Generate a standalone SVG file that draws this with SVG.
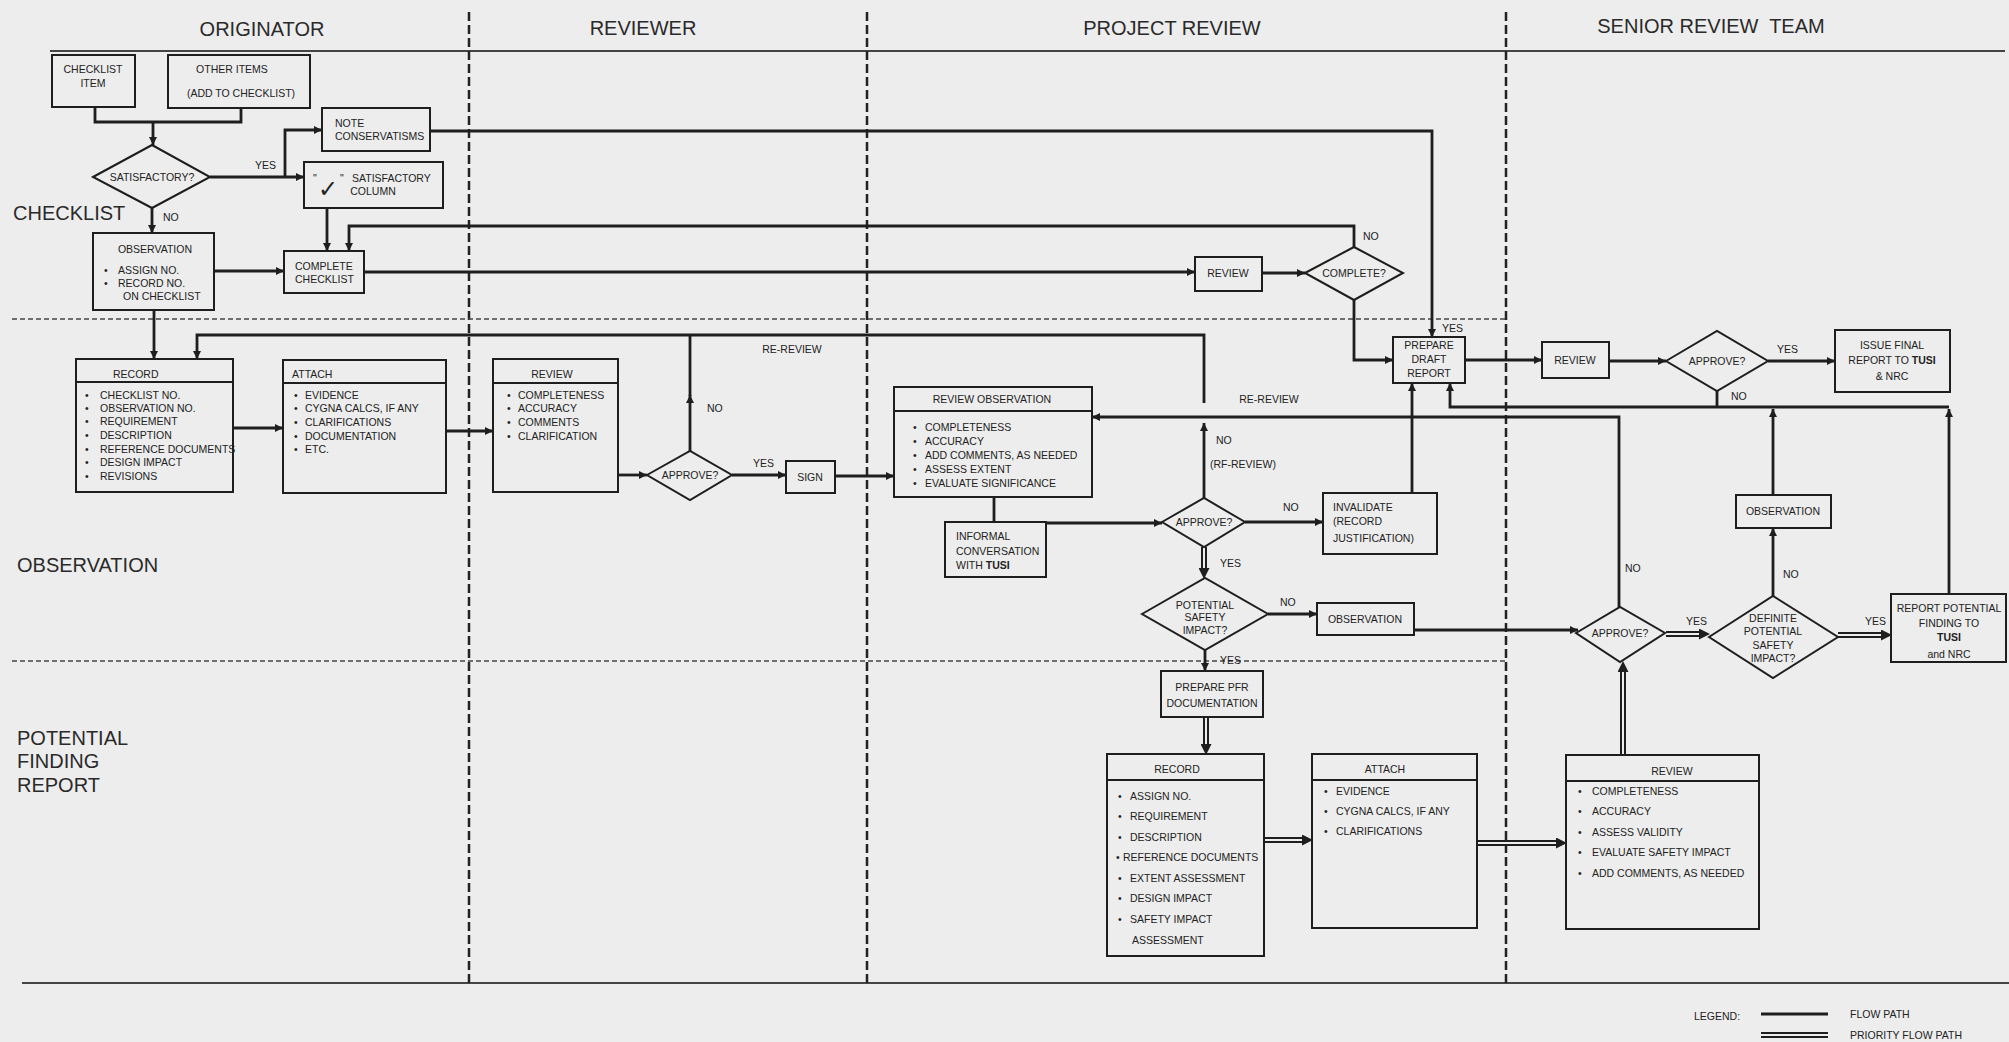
<svg xmlns="http://www.w3.org/2000/svg" width="2009" height="1042" viewBox="0 0 2009 1042">
<style>
.bg{fill:#ededed}
.bx{fill:none;stroke:#1e1e1e;stroke-width:2}
.fl{fill:none;stroke:#1e1e1e;stroke-width:2.8}
.po{fill:none;stroke:#1e1e1e;stroke-width:6}
.pi{fill:none;stroke:#ededed;stroke-width:2}
.t{font-family:"Liberation Sans",Arial,sans-serif;font-size:10.5px;fill:#222}
.c{text-anchor:middle}
.h{font-family:"Liberation Sans",Arial,sans-serif;font-size:20px;fill:#2a2a2a}
.lane{stroke:#222;stroke-width:2.5;stroke-dasharray:9,4;fill:none}
.row{stroke:#444;stroke-width:1.6;stroke-dasharray:5,3;fill:none}
.sol{stroke:#444;stroke-width:2;fill:none}
.b{font-weight:bold}
</style>
<defs>
<marker id="a" viewBox="0 0 10 10" refX="10" refY="5" markerWidth="10" markerHeight="8" markerUnits="userSpaceOnUse" orient="auto"><path d="M0,0 L10,5 L0,10 z" fill="#1e1e1e"/></marker>
<marker id="p" viewBox="0 0 10 10" refX="0" refY="5" markerWidth="11" markerHeight="11" markerUnits="userSpaceOnUse" orient="auto"><path d="M0,0 L10,5 L0,10 z" fill="#1e1e1e"/></marker>
</defs>
<rect class="bg" x="0" y="0" width="2009" height="1042"/>

<g id="lanes">
<path class="sol" d="M50,51 H2005"/>
<path class="sol" d="M22,983 H2009"/>
<path class="lane" d="M469,12 V983 M867,12 V983 M1506,12 V983"/>
<path class="row" d="M12,319 H1506 M12,661 H1506"/>
<text class="h c" x="262" y="36">ORIGINATOR</text>
<text class="h c" x="643" y="35">REVIEWER</text>
<text class="h c" x="1172" y="35">PROJECT REVIEW</text>
<text class="h c" x="1711" y="33" xml:space="preserve">SENIOR REVIEW  TEAM</text>
<text class="h" x="13" y="220">CHECKLIST</text>
<text class="h" x="17" y="572">OBSERVATION</text>
<text class="h" x="17" y="745">POTENTIAL</text>
<text class="h" x="17" y="768">FINDING</text>
<text class="h" x="17" y="792">REPORT</text>
</g>

<g id="connectors">
<path class="fl" d="M95,107 V122 H241 V108"/>
<path class="fl" d="M153,122 V145" marker-end="url(#a)"/>
<path class="fl" d="M210,177 H304" marker-end="url(#a)"/>
<path class="fl" d="M285,177 V130 H322" marker-end="url(#a)"/>
<path class="fl" d="M152,208 V233" marker-end="url(#a)"/>
<path class="fl" d="M214,271 H284" marker-end="url(#a)"/>
<path class="fl" d="M327,208 V251" marker-end="url(#a)"/>
<path class="fl" d="M1354,247 V226 H349 V251" marker-end="url(#a)"/>
<path class="fl" d="M364,272 H1195" marker-end="url(#a)"/>
<path class="fl" d="M1262,273 H1305" marker-end="url(#a)"/>
<path class="fl" d="M1354,300 V360 H1393" marker-end="url(#a)"/>
<path class="fl" d="M430,131 H1432 V337" marker-end="url(#a)"/>
<path class="fl" d="M1465,360 H1542" marker-end="url(#a)"/>
<path class="fl" d="M1609,361 H1666" marker-end="url(#a)"/>
<path class="fl" d="M1768,361 H1835" marker-end="url(#a)"/>
<path class="fl" d="M1949,594 V409" marker-end="url(#a)"/>
<path class="fl" d="M1949,407 H1450 V383" marker-end="url(#a)"/>
<path class="fl" d="M1717,391 V407"/>
<path class="fl" d="M1773,495 V409" marker-end="url(#a)"/>
<path class="fl" d="M154,310 V359" marker-end="url(#a)"/>
<path class="fl" d="M1204,498 V423" marker-end="url(#a)"/>
<path class="fl" d="M1204,403 V335 H197 V359" marker-end="url(#a)"/>
<path class="fl" d="M690,451 V395" marker-end="url(#a)"/>
<path class="fl" d="M690,396 V335"/>
<path class="fl" d="M233,428 H283" marker-end="url(#a)"/>
<path class="fl" d="M446,431 H493" marker-end="url(#a)"/>
<path class="fl" d="M618,475 H647" marker-end="url(#a)"/>
<path class="fl" d="M732,475 H786" marker-end="url(#a)"/>
<path class="fl" d="M835,476 H894" marker-end="url(#a)"/>
<path class="fl" d="M994,497 V522"/>
<path class="fl" d="M1046,523 H1162" marker-end="url(#a)"/>
<path class="fl" d="M1245,522 H1323" marker-end="url(#a)"/>
<path class="fl" d="M1412,493 V383" marker-end="url(#a)"/>
<path class="fl" d="M1619,608 V417 H1092" marker-end="url(#a)"/>
<path class="fl" d="M1268,614 H1317" marker-end="url(#a)"/>
<path class="fl" d="M1414,630 H1578" marker-end="url(#a)"/>
<path class="fl" d="M1773,596 V528" marker-end="url(#a)"/>
<path class="fl" d="M1205,650 V671" marker-end="url(#a)"/>
<!-- priority paths -->
<path class="po" d="M1204,547 V568" marker-end="url(#p)"/><path class="pi" d="M1204,547 V568"/>
<path class="po" d="M1666,634 H1699" marker-end="url(#p)"/><path class="pi" d="M1666,634 H1699"/>
<path class="po" d="M1838,635 H1881" marker-end="url(#p)"/><path class="pi" d="M1838,635 H1881"/>
<path class="po" d="M1206,717 V744" marker-end="url(#p)"/><path class="pi" d="M1206,717 V744"/>
<path class="po" d="M1264,840 H1302" marker-end="url(#p)"/><path class="pi" d="M1264,840 H1302"/>
<path class="po" d="M1477,843 H1556" marker-end="url(#p)"/><path class="pi" d="M1477,843 H1556"/>
<path class="po" d="M1623,755 V672" marker-end="url(#p)"/><path class="pi" d="M1623,755 V672"/>
<!-- labels -->
<text class="t" x="255" y="169">YES</text>
<text class="t" x="163" y="221">NO</text>
<text class="t" x="1363" y="240">NO</text>
<text class="t" x="1442" y="332">YES</text>
<text class="t" x="1777" y="353">YES</text>
<text class="t" x="1731" y="400">NO</text>
<text class="t c" x="792" y="353">RE-REVIEW</text>
<text class="t" x="707" y="412">NO</text>
<text class="t" x="753" y="467">YES</text>
<text class="t c" x="1269" y="403">RE-REVIEW</text>
<text class="t" x="1216" y="444">NO</text>
<text class="t" x="1210" y="468">(RF-REVIEW)</text>
<text class="t" x="1283" y="511">NO</text>
<text class="t" x="1220" y="567">YES</text>
<text class="t" x="1280" y="606">NO</text>
<text class="t" x="1220" y="664">YES</text>
<text class="t" x="1625" y="572">NO</text>
<text class="t" x="1686" y="625">YES</text>
<text class="t" x="1783" y="578">NO</text>
<text class="t" x="1865" y="625">YES</text>
</g>

<g id="chk_item"><rect class="bx" x="52" y="55" width="83" height="52"/>
<text class="t c" x="93" y="73">CHECKLIST</text><text class="t c" x="93" y="87">ITEM</text></g>
<g id="other_items"><rect class="bx" x="168" y="55" width="142" height="53"/>
<text class="t c" x="232" y="73">OTHER ITEMS</text><text class="t c" x="241" y="97">(ADD TO CHECKLIST)</text></g>
<g id="satisfactory"><polygon class="bx" points="93,177 152,145 210,177 152,208"/>
<text class="t c" x="152" y="181">SATISFACTORY?</text></g>
<g id="note"><rect class="bx" x="322" y="108" width="108" height="43"/>
<text class="t" x="335" y="127">NOTE</text><text class="t" x="335" y="140">CONSERVATISMS</text></g>
<g id="satcol"><rect class="bx" x="304" y="162" width="139" height="46"/>
<text class="t" x="313" y="182">"</text>
<text x="318" y="197" font-family="DejaVu Sans,sans-serif" font-size="24" fill="#222">✓</text>
<text class="t" x="340" y="182">"</text>
<text class="t" x="352" y="182">SATISFACTORY</text><text class="t c" x="373" y="195">COLUMN</text></g>
<g id="obs1"><rect class="bx" x="93" y="233" width="121" height="77"/>
<text class="t c" x="155" y="253">OBSERVATION</text>
<text class="t" x="104" y="274">•</text><text class="t" x="118" y="274">ASSIGN NO.</text>
<text class="t" x="104" y="287">•</text><text class="t" x="118" y="287">RECORD NO.</text>
<text class="t" x="123" y="300">ON CHECKLIST</text></g>
<g id="complete_checklist"><rect class="bx" x="284" y="251" width="80" height="42"/>
<text class="t" x="295" y="270">COMPLETE</text><text class="t" x="295" y="283">CHECKLIST</text></g>
<g id="review1"><rect class="bx" x="1195" y="257" width="67" height="34"/>
<text class="t c" x="1228" y="277">REVIEW</text></g>
<g id="complete_q"><polygon class="bx" points="1305,273 1354,247 1403,273 1354,300"/>
<text class="t c" x="1354" y="277">COMPLETE?</text></g>
<g id="draft"><rect class="bx" x="1393" y="337" width="72" height="46"/>
<text class="t c" x="1429" y="349">PREPARE</text><text class="t c" x="1429" y="363">DRAFT</text><text class="t c" x="1429" y="377">REPORT</text></g>
<g id="sreview"><rect class="bx" x="1542" y="342" width="67" height="36"/>
<text class="t c" x="1575" y="364">REVIEW</text></g>
<g id="sapprove"><polygon class="bx" points="1666,361 1717,331 1768,361 1717,391"/>
<text class="t c" x="1717" y="365">APPROVE?</text></g>
<g id="issue"><rect class="bx" x="1835" y="330" width="115" height="62"/>
<text class="t c" x="1892" y="349">ISSUE FINAL</text>
<text class="t c" x="1892" y="364">REPORT TO <tspan class="b">TUSI</tspan></text>
<text class="t c" x="1892" y="380">&amp; NRC</text></g>

<g id="record1"><rect class="bx" x="76" y="359" width="157" height="133"/>
<path class="bx" d="M76,382 H233"/>
<text class="t" x="113" y="378">RECORD</text>
<g class="t"><text x="85" y="399">•</text><text x="100" y="399">CHECKLIST NO.</text>
<text x="85" y="412">•</text><text x="100" y="412">OBSERVATION NO.</text>
<text x="85" y="425">•</text><text x="100" y="425">REQUIREMENT</text>
<text x="85" y="439">•</text><text x="100" y="439">DESCRIPTION</text>
<text x="85" y="453">•</text><text x="100" y="453">REFERENCE DOCUMENTS</text>
<text x="85" y="466">•</text><text x="100" y="466">DESIGN IMPACT</text>
<text x="85" y="480">•</text><text x="100" y="480">REVISIONS</text></g></g>
<g id="attach1"><rect class="bx" x="283" y="360" width="163" height="133"/>
<path class="bx" d="M283,383 H446"/>
<text class="t" x="292" y="378">ATTACH</text>
<g class="t"><text x="294" y="399">•</text><text x="305" y="399">EVIDENCE</text>
<text x="294" y="412">•</text><text x="305" y="412">CYGNA CALCS, IF ANY</text>
<text x="294" y="426">•</text><text x="305" y="426">CLARIFICATIONS</text>
<text x="294" y="440">•</text><text x="305" y="440">DOCUMENTATION</text>
<text x="294" y="453">•</text><text x="305" y="453">ETC.</text></g></g>
<g id="review2"><rect class="bx" x="493" y="359" width="125" height="133"/>
<path class="bx" d="M493,383 H618"/>
<text class="t c" x="552" y="378">REVIEW</text>
<g class="t"><text x="507" y="399">•</text><text x="518" y="399">COMPLETENESS</text>
<text x="507" y="412">•</text><text x="518" y="412">ACCURACY</text>
<text x="507" y="426">•</text><text x="518" y="426">COMMENTS</text>
<text x="507" y="440">•</text><text x="518" y="440">CLARIFICATION</text></g></g>
<g id="rapprove"><polygon class="bx" points="647,475 690,451 732,475 690,500"/>
<text class="t c" x="690" y="479">APPROVE?</text></g>
<g id="sign"><rect class="bx" x="786" y="461" width="49" height="32"/>
<text class="t c" x="810" y="481">SIGN</text></g>
<g id="revobs"><rect class="bx" x="894" y="387" width="198" height="110"/>
<path class="bx" d="M894,411 H1092"/>
<text class="t c" x="992" y="403">REVIEW OBSERVATION</text>
<g class="t"><text x="913" y="431">•</text><text x="925" y="431">COMPLETENESS</text>
<text x="913" y="445">•</text><text x="925" y="445">ACCURACY</text>
<text x="913" y="459">•</text><text x="925" y="459">ADD COMMENTS, AS NEEDED</text>
<text x="913" y="473">•</text><text x="925" y="473">ASSESS EXTENT</text>
<text x="913" y="487">•</text><text x="925" y="487">EVALUATE SIGNIFICANCE</text></g></g>
<g id="informal"><rect class="bx" x="945" y="522" width="101" height="55"/>
<text class="t" x="956" y="540">INFORMAL</text><text class="t" x="956" y="555">CONVERSATION</text>
<text class="t" x="956" y="569">WITH <tspan class="b">TUSI</tspan></text></g>
<g id="mapprove"><polygon class="bx" points="1162,522 1204,498 1245,522 1204,547"/>
<text class="t c" x="1204" y="526">APPROVE?</text></g>
<g id="invalidate"><rect class="bx" x="1323" y="493" width="114" height="61"/>
<text class="t" x="1333" y="511">INVALIDATE</text><text class="t" x="1333" y="525">(RECORD</text>
<text class="t" x="1333" y="542">JUSTIFICATION)</text></g>
<g id="potential"><polygon class="bx" points="1142,614 1205,578 1268,614 1205,650"/>
<text class="t c" x="1205" y="609">POTENTIAL</text><text class="t c" x="1205" y="621">SAFETY</text><text class="t c" x="1205" y="634">IMPACT?</text></g>
<g id="obs2"><rect class="bx" x="1317" y="603" width="97" height="32"/>
<text class="t c" x="1365" y="623">OBSERVATION</text></g>
<g id="lapprove"><polygon class="bx" points="1576,633 1620,607 1665,633 1620,662"/>
<text class="t c" x="1620" y="637">APPROVE?</text></g>
<g id="definite"><polygon class="bx" points="1709,637 1773,596 1838,637 1773,678"/>
<text class="t c" x="1773" y="622">DEFINITE</text><text class="t c" x="1773" y="635">POTENTIAL</text>
<text class="t c" x="1773" y="649">SAFETY</text><text class="t c" x="1773" y="662">IMPACT?</text></g>
<g id="obs3"><rect class="bx" x="1736" y="495" width="95" height="33"/>
<text class="t c" x="1783" y="515">OBSERVATION</text></g>
<g id="reportpf"><rect class="bx" x="1891" y="594" width="115" height="68"/>
<text class="t c" x="1949" y="612">REPORT POTENTIAL</text><text class="t c" x="1949" y="627">FINDING TO</text>
<text class="t c b" x="1949" y="641">TUSI</text><text class="t c" x="1949" y="658">and NRC</text></g>

<g id="preppfr"><rect class="bx" x="1161" y="671" width="102" height="46"/>
<text class="t c" x="1212" y="691">PREPARE PFR</text><text class="t c" x="1212" y="707">DOCUMENTATION</text></g>
<g id="record2"><rect class="bx" x="1107" y="754" width="157" height="202"/>
<path class="bx" d="M1107,780 H1264"/>
<text class="t c" x="1177" y="773">RECORD</text>
<g class="t"><text x="1118" y="800">•</text><text x="1130" y="800">ASSIGN NO.</text>
<text x="1118" y="820">•</text><text x="1130" y="820">REQUIREMENT</text>
<text x="1118" y="841">•</text><text x="1130" y="841">DESCRIPTION</text>
<text x="1116" y="861">•</text><text x="1123" y="861">REFERENCE DOCUMENTS</text>
<text x="1118" y="882">•</text><text x="1130" y="882">EXTENT ASSESSMENT</text>
<text x="1118" y="902">•</text><text x="1130" y="902">DESIGN IMPACT</text>
<text x="1118" y="923">•</text><text x="1130" y="923">SAFETY IMPACT</text>
<text x="1132" y="944">ASSESSMENT</text></g></g>
<g id="attach2"><rect class="bx" x="1312" y="754" width="165" height="174"/>
<path class="bx" d="M1312,780 H1477"/>
<text class="t c" x="1385" y="773">ATTACH</text>
<g class="t"><text x="1324" y="795">•</text><text x="1336" y="795">EVIDENCE</text>
<text x="1324" y="815">•</text><text x="1336" y="815">CYGNA CALCS, IF ANY</text>
<text x="1324" y="835">•</text><text x="1336" y="835">CLARIFICATIONS</text></g></g>
<g id="review3"><rect class="bx" x="1566" y="755" width="193" height="174"/>
<path class="bx" d="M1566,781 H1759"/>
<text class="t c" x="1672" y="775">REVIEW</text>
<g class="t"><text x="1578" y="795">•</text><text x="1592" y="795">COMPLETENESS</text>
<text x="1578" y="815">•</text><text x="1592" y="815">ACCURACY</text>
<text x="1578" y="836">•</text><text x="1592" y="836">ASSESS VALIDITY</text>
<text x="1578" y="856">•</text><text x="1592" y="856">EVALUATE SAFETY IMPACT</text>
<text x="1578" y="877">•</text><text x="1592" y="877">ADD COMMENTS, AS NEEDED</text></g></g>

<g id="legend">
<text class="t" x="1694" y="1020">LEGEND:</text>
<path class="fl" d="M1761,1014 H1828"/>
<text class="t" x="1850" y="1018">FLOW PATH</text>
<path class="po" d="M1761,1035 H1828"/><path class="pi" d="M1761,1035 H1828"/>
<text class="t" x="1850" y="1039">PRIORITY FLOW PATH</text>
</g>
</svg>
